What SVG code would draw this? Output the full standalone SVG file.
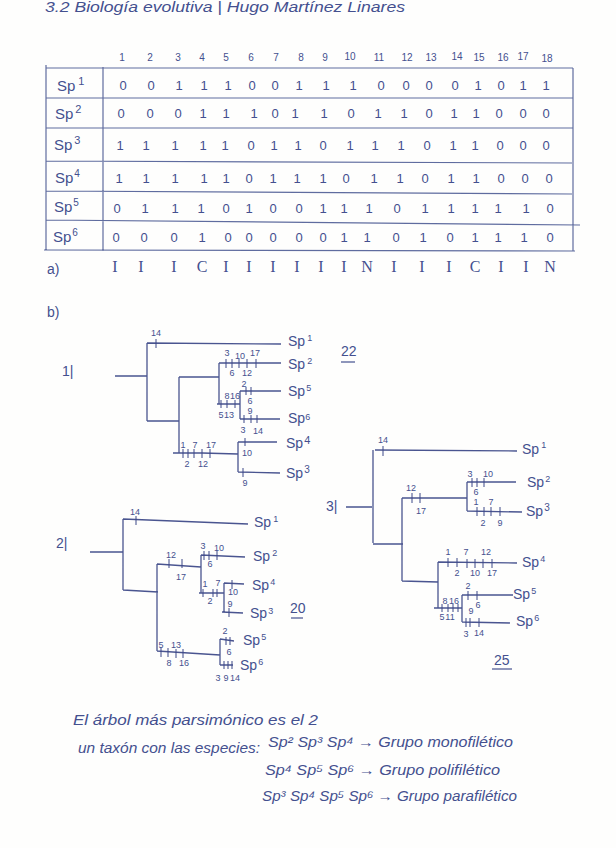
<svg xmlns="http://www.w3.org/2000/svg" width="616" height="848" viewBox="0 0 616 848">
<style>
text{font-family:"Liberation Sans","DejaVu Sans",sans-serif;fill:#44508f}
.grid{stroke:#5f6c9f;stroke-width:1.2;fill:none}
.b{stroke:#4a5590;stroke-width:1.3;fill:none}
.t{stroke:#3d4888;stroke-width:1;fill:none}
.d{font-size:13px}
.h{font-size:10px}
.sp{font-size:15px}
.n{font-size:9px;text-anchor:middle}
.l{font-size:14px}
.w{font-size:14px;font-style:italic}
.u{stroke:#44508f;stroke-width:1.2}
.c{font-family:"Liberation Serif","DejaVu Serif",serif;font-size:16px;text-anchor:middle}
</style>
<rect width="616" height="848" fill="#fefefd"/>
<text id="title" x="45" y="12" class="w" textLength="360" lengthAdjust="spacingAndGlyphs">3.2  Biología evolutiva  |  Hugo Martínez Linares</text>
<g id="table">
<path class="grid" d="M46,68H573M46,98H573M46,128H573M46,161L572,163M46,191L572,194M46,220L580,225M44,250L575,251M46,65V250M103,67V251M573,68V251"/>
<text class="h" text-anchor="middle" x="122 150 178 202 226 251 276 301 325" y="61">123456789</text>
<text class="h" text-anchor="middle"><tspan x="350" y="60">10</tspan><tspan x="379" y="61">11</tspan><tspan x="407" y="61">12</tspan><tspan x="431" y="61">13</tspan><tspan x="457" y="60">14</tspan><tspan x="479" y="61">15</tspan><tspan x="503" y="61">16</tspan><tspan x="523" y="60">17</tspan><tspan x="547" y="62">18</tspan></text>
<g id="row1"><text class="sp" x="57" y="91">Sp<tspan font-size="11" dy="-6" dx="3">1</tspan></text>
<text class="d" text-anchor="middle" x="123 151 179 204 228 252 275 299 326 353 381 406 429 455 478 501 523 546" y="90">001110011100001011</text></g>
<g id="row2"><text class="sp" x="55" y="119">Sp<tspan font-size="11" dy="-6" dx="2">2</tspan></text>
<text class="d" text-anchor="middle" x="121 150 178 203 226 254 275 295 324 351 378 404 429 454 476 499 523 546" y="118">000111011011011000</text></g>
<g id="row3"><text class="sp" x="54" y="150">Sp<tspan font-size="11" dy="-6" dx="2">3</tspan></text>
<text class="d" text-anchor="middle" x="120 146 175 203 225 251 274 298 323 350 375 401 427 453 475 500 523 546" y="150">111110110111011000</text></g>
<g id="row4"><text class="sp" x="55" y="183">Sp<tspan font-size="10" dy="-6" dx="1">4</tspan></text>
<text class="d" text-anchor="middle" x="119 146 175 204 226 249 273 297 323 346 374 400 425 451 476 501 525 549" y="183">111110111011011000</text></g>
<g id="row5"><text class="sp" x="54" y="212">Sp<tspan font-size="10" dy="-6" dx="1">5</tspan></text>
<text class="d" text-anchor="middle" x="117 145 175 201 226 249 273 299 323 344 369 397 425 451 475 498 526 550" y="213">011101001110111110</text></g>
<g id="row6"><text class="sp" x="53" y="242">Sp<tspan font-size="10" dy="-6" dx="1">6</tspan></text>
<text class="d" text-anchor="middle" x="116 144 174 202 228 249 273 299 323 344 367 396 423 450 475 498 524 550" y="242">000100000110101110</text></g>
</g>
<text id="a" class="l" x="47" y="274">a)</text>
<text id="chars" class="c" x="115 141 174 202 226 249 273 297 321 344 367 394 422 449 475 501 526 550" y="272">IIICIIIIIINIIICIIN</text>
<text id="b" class="l" x="47" y="317">b)</text>

<g id="tree1">
<g id="tree1-connectors">
<path class="b" d="M115,376H147M147,343V421M147,343L281,344M147,421H179M179,377V453M179,377H219M219,363V404M219,363H281M217,404H240M240,391V419M240,391H281M240,419H280M173,453H202L238,454M238,442V472M238,442H277M238,472L280,473"/>
<path class="t" d="M156,339V348M226,359V368M232,359V368M239,359V368M247,359V368M256,359V368M221,400V408M227,400V408M235,400V408M246,387V395M251,387V395M244,415V423M251,415V423M257,415V423M183,449V458M188,449V458M194,449V458M202,449V458M210,449V458M245,438V446M243,468V477"/>
</g>
<g id="tree1-labels">
<text class="n" x="156" y="336">14</text><text class="n" x="227" y="356">3</text><text class="n" x="240" y="359">10</text><text class="n" x="255" y="356">17</text><text class="n" x="232" y="376">6</text><text class="n" x="247" y="376">12</text>
<text class="n" x="227" y="399">8</text><text class="n" x="235" y="399">16</text><text class="n" x="221" y="418">5</text><text class="n" x="229" y="418">13</text><text class="n" x="244" y="387">2</text><text class="n" x="250" y="404">6</text><text class="n" x="250" y="414">9</text><text class="n" x="243" y="433">3</text><text class="n" x="258" y="434">14</text>
<text class="n" x="183" y="448">1</text><text class="n" x="195" y="448">7</text><text class="n" x="211" y="448">17</text><text class="n" x="187" y="467">2</text><text class="n" x="203" y="467">12</text><text class="n" x="247" y="456">10</text><text class="n" x="245" y="486">9</text>
</g>
<g id="t1-sp1"><text class="l" x="288" y="346" font-size="13">Sp<tspan font-size="9" dy="-5" dx="2">1</tspan></text></g>
<g id="t1-sp2"><text class="l" x="288" y="369">Sp<tspan font-size="9" dy="-5" dx="2">2</tspan></text></g>
<g id="t1-sp5"><text class="l" x="288" y="396">Sp<tspan font-size="9" dy="-5" dx="1">5</tspan></text></g>
<g id="t1-sp6"><text class="l" x="288" y="423">Sp<tspan font-size="9" dy="-3">6</tspan></text></g>
<g id="t1-sp4"><text class="l" x="286" y="448">Sp<tspan font-size="11" dy="-4" dx="1">4</tspan></text></g>
<g id="t1-sp3"><text class="l" x="286" y="478">Sp<tspan font-size="10" dy="-5" dx="1">3</tspan></text></g>
<text class="l" x="62" y="376">1|</text>
<text class="l" x="341" y="356">22</text><path class="u" d="M341,362H355"/>
</g>

<g id="tree2">
<g id="tree2-connectors">
<path class="b" d="M90,552H123M123,519V590M123,519L248,524M123,590L158,592M157,564V651M157,564L201,567M201,555V593M201,555L245,557M199,593H224M224,583V612M224,583L244,584M222,612L243,613M157,651L220,655M220,639V665M220,639L234,641M220,665H233"/>
<path class="t" d="M136,516V525M169,559V568M182,559V568M204,551V560M209,551V560M217,551V560M203,589V597M213,589V597M217,589V597M232,580V589M229,608V617M161,648V657M168,648V657M176,649V658M183,649V658M226,637V645M230,637V645M224,661V669M228,661V669M232,661V669"/>
</g>
<g id="tree2-labels">
<text class="n" x="135" y="515">14</text><text class="n" x="171" y="558">12</text><text class="n" x="181" y="580">17</text><text class="n" x="203" y="549">3</text><text class="n" x="219" y="551">10</text><text class="n" x="210" y="567">6</text><text class="n" x="205" y="587">1</text><text class="n" x="218" y="586">7</text><text class="n" x="210" y="604">2</text><text class="n" x="233" y="595">10</text><text class="n" x="230" y="607">9</text>
<text class="n" x="161" y="648">5</text><text class="n" x="176" y="648">13</text><text class="n" x="169" y="666">8</text><text class="n" x="184" y="666">16</text><text class="n" x="225" y="634">2</text><text class="n" x="229" y="655">6</text><text class="n" x="218" y="681">3</text><text class="n" x="226" y="681">9</text><text class="n" x="235" y="681">14</text>
</g>
<g id="t2-sp1"><text class="l" x="254" y="527">Sp<tspan font-size="9" dy="-5" dx="2">1</tspan></text></g>
<g id="t2-sp2"><text class="l" x="253" y="561">Sp<tspan font-size="9" dy="-5" dx="2">2</tspan></text></g>
<g id="t2-sp4"><text class="l" x="252" y="590">Sp<tspan font-size="9" dy="-5" dx="1">4</tspan></text></g>
<g id="t2-sp3"><text class="l" x="250" y="618">Sp<tspan font-size="9" dy="-4" dx="1">3</tspan></text></g>
<g id="t2-sp5"><text class="l" x="243" y="645">Sp<tspan font-size="9" dy="-5" dx="1">5</tspan></text></g>
<g id="t2-sp6"><text class="l" x="240" y="670">Sp<tspan font-size="9" dy="-5" dx="1">6</tspan></text></g>
<text class="l" x="56" y="548">2|</text>
<text class="l" x="290" y="613">20</text><path class="u" d="M291,618H303"/>
</g>

<g id="tree3">
<g id="tree3-connectors">
<path class="b" d="M346,507H372M373,450V543M375,450L517,451M373,544H403M402,498V581M402,498H467M467,482V511M467,482H516M467,511L522,512M402,581L438,582M438,562V608M438,562L517,563M434,608H462M462,595V622M462,595H513M462,622L510,623"/>
<path class="t" d="M383,446V456M412,493V503M420,493V503M472,478V487M477,478V487M484,478V487M477,507V516M484,507V516M491,507V516M500,507V516M448,558V567M457,558V567M467,559V568M475,559V568M483,559V568M492,559V568M442,604V612M448,604V612M453,604V612M458,604V612M468,591V600M477,591V600M466,618V627M470,618V627M479,618V627"/>
</g>
<g id="tree3-labels">
<text class="n" x="383" y="443">14</text><text class="n" x="411" y="491">12</text><text class="n" x="421" y="514">17</text><text class="n" x="470" y="477">3</text><text class="n" x="488" y="477">10</text><text class="n" x="476" y="495">6</text><text class="n" x="476" y="505">1</text><text class="n" x="491" y="505">7</text><text class="n" x="483" y="526">2</text><text class="n" x="500" y="526">9</text>
<text class="n" x="448" y="555">1</text><text class="n" x="466" y="555">7</text><text class="n" x="486" y="555">12</text><text class="n" x="457" y="576">2</text><text class="n" x="475" y="576">10</text><text class="n" x="492" y="576">17</text>
<text class="n" x="445" y="604">8</text><text class="n" x="454" y="604">16</text><text class="n" x="442" y="620">5</text><text class="n" x="450" y="620">11</text><text class="n" x="468" y="589">2</text><text class="n" x="478" y="608">6</text><text class="n" x="471" y="614">9</text><text class="n" x="466" y="637">3</text><text class="n" x="479" y="636">14</text>
</g>
<g id="t3-sp1"><text class="l" x="522" y="454">Sp<tspan font-size="9" dy="-6" dx="2">1</tspan></text></g>
<g id="t3-sp2"><text class="l" x="527" y="487">Sp<tspan font-size="9" dy="-5" dx="1">2</tspan></text></g>
<g id="t3-sp3"><text class="l" x="526" y="516" font-size="16">Sp<tspan font-size="10" dy="-5" dx="1">3</tspan></text></g>
<g id="t3-sp4"><text class="l" x="522" y="567">Sp<tspan font-size="9" dy="-5" dx="1">4</tspan></text></g>
<g id="t3-sp5"><text class="l" x="513" y="599">Sp<tspan font-size="9" dy="-5" dx="1">5</tspan></text></g>
<g id="t3-sp6"><text class="l" x="516" y="626">Sp<tspan font-size="9" dy="-5" dx="1">6</tspan></text></g>
<text class="l" x="326" y="511">3|</text>
<text class="l" x="494" y="665">25</text><path class="u" d="M492,669H512"/>
</g>

<g id="notes">
<text class="w" x="73" y="725" textLength="245" lengthAdjust="spacingAndGlyphs">El árbol más parsimónico es el 2</text>
<text class="w" x="78" y="753" textLength="182" lengthAdjust="spacingAndGlyphs">un taxón con las especies:</text>
<text class="w" x="268" y="747" textLength="245" lengthAdjust="spacingAndGlyphs">Sp² Sp³ Sp⁴ → Grupo monofilético</text>
<text class="w" x="265" y="775" textLength="235" lengthAdjust="spacingAndGlyphs">Sp⁴ Sp⁵ Sp⁶ → Grupo polifilético</text>
<text class="w" x="262" y="801" textLength="255" lengthAdjust="spacingAndGlyphs">Sp³ Sp⁴ Sp⁵ Sp⁶ → Grupo parafilético</text>
</g>
</svg>
